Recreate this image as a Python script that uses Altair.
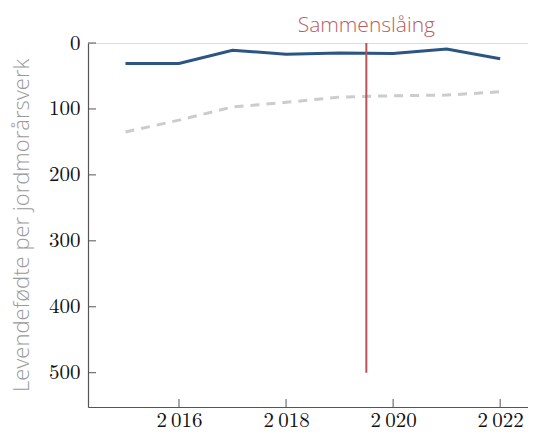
import altair as alt
import pandas as pd

years = [2015, 2016, 2017, 2018, 2019, 2020, 2021, 2022]
blue_vals = [31, 31, 11, 17, 15, 16, 9, 24]
grey_vals = [135, 117, 97, 90, 82, 80, 79, 74]
x_ticks = [2016, 2018, 2020, 2022]
y_ticks = [0, 100, 200, 300, 400, 500]
event_year = [2019.5]
event_label = ["Sammenslåing"]

W, H = 440, 364
SERIF = "Latin Modern Roman, CMU Serif, DejaVu Serif, serif"

df = pd.DataFrame({
    "year": years * 2,
    "value": blue_vals + grey_vals,
    "series": ["blue"] * len(years) + ["grey"] * len(years),
})

xscale = alt.Scale(domain=[2014.3, 2022.52], nice=False, zero=False)
yscale = alt.Scale(domain=[0, 552], reverse=True, nice=False)

xaxis = alt.Axis(values=x_ticks, title=None, grid=False, tickSize=0, format="d",
                 labelExpr="substring(toString(datum.value),0,1) + '\u2009' + substring(toString(datum.value),1)",
                 labelFont=SERIF, labelFontSize=21, labelColor="#111",
                 domainColor="#555", domainWidth=1.2, labelPadding=2)
yaxis = alt.Axis(values=y_ticks, title="Levendefødte per jordmorårsverk", grid=False,
                 tickSize=0, format="d", labelFont=SERIF, labelFontSize=21,
                 labelColor="#111", domainColor="#555", domainWidth=1.2,
                 titleFont="Open Sans", titleFontSize=22, titleFontWeight=300,
                 titleColor="#9a9a9a", labelPadding=8, titlePadding=15)

base = alt.Chart(df)

blue = base.transform_filter("datum.series == 'blue'").mark_line(
    color="#2b5583", strokeWidth=3).encode(
    x=alt.X("year:Q", scale=xscale, axis=xaxis),
    y=alt.Y("value:Q", scale=yscale, axis=yaxis),
)
grey = base.transform_filter("datum.series == 'grey'").mark_line(
    color="#cccccc", strokeWidth=3, strokeDash=[9, 7]).encode(
    x=alt.X("year:Q", scale=xscale),
    y=alt.Y("value:Q", scale=yscale),
)

xt = alt.Chart(pd.DataFrame({"t": x_ticks})).mark_rule(color="#555", strokeWidth=1).encode(
    x=alt.X("t:Q", scale=xscale), y=alt.value(H), y2=alt.value(H - 8))
yt = alt.Chart(pd.DataFrame({"t": y_ticks})).mark_rule(color="#555", strokeWidth=1).encode(
    y=alt.Y("t:Q", scale=yscale), x=alt.value(0), x2=alt.value(8))

ev = pd.DataFrame({"x": event_year, "y0": [0], "y1": [500], "label": event_label})
rule = alt.Chart(ev).mark_rule(color="#b5525a", strokeWidth=2).encode(
    x=alt.X("x:Q", scale=xscale), y=alt.Y("y0:Q", scale=yscale), y2="y1:Q")
text = alt.Chart(ev).mark_text(color="#b85c62", font="Open Sans", fontSize=21,
                               fontWeight=300,
                               baseline="alphabetic", align="center", dy=-11).encode(
    x=alt.X("x:Q", scale=xscale), y=alt.Y("y0:Q", scale=yscale), text="label:N")

chart = alt.layer(grey, blue, xt, yt, rule, text).properties(
    width=W, height=H,
    autosize=alt.AutoSizeParams(type="none"),
    padding={"left": 80, "top": 35, "right": 0, "bottom": 26},
).configure_view(stroke=None).configure(background="white")

chart.save("out.html", embed_options={"renderer": "svg", "actions": False})
